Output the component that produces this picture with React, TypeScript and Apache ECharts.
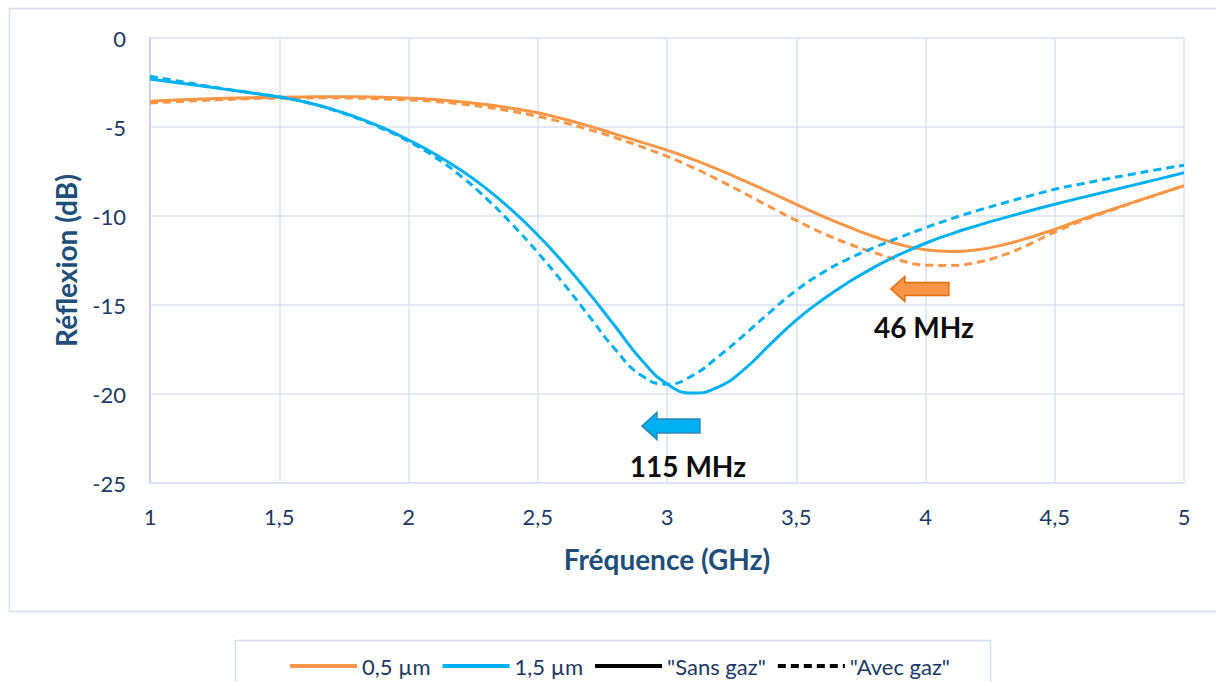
import React, { useEffect, useRef } from "react";
import * as echarts from "echarts";

// ---- Data: frequency (GHz) and reflexion (dB) ----
const freqGHz = [
  1.0, 1.1, 1.2, 1.3, 1.4, 1.5, 1.6, 1.7, 1.8, 1.9,
  2.0, 2.1, 2.2, 2.3, 2.4, 2.5, 2.6, 2.7, 2.8, 2.9,
  3.0, 3.1, 3.2, 3.3, 3.4, 3.5, 3.6, 3.7, 3.8, 3.9,
  4.0, 4.1, 4.2, 4.3, 4.4, 4.5, 4.6, 4.7, 4.8, 4.9, 5.0,
];

// 0,5 µm — "Sans gaz" (solid)
const orangeSans = [
  -3.55, -3.49, -3.43, -3.38, -3.35, -3.33, -3.31, -3.3, -3.3, -3.33,
  -3.38, -3.46, -3.58, -3.74, -3.95, -4.2, -4.55, -4.95, -5.4, -5.85,
  -6.3, -6.82, -7.4, -8.03, -8.68, -9.35, -10.0, -10.6, -11.15, -11.6,
  -11.9, -12.0, -11.9, -11.62, -11.22, -10.75, -10.22, -9.73, -9.25, -8.77, -8.3,
];

// 0,5 µm — "Avec gaz" (dashed)
const orangeAvec = [
  -3.65, -3.58, -3.51, -3.45, -3.4, -3.38, -3.36, -3.36, -3.38, -3.42,
  -3.48, -3.56, -3.7, -3.88, -4.12, -4.4, -4.75, -5.15, -5.6, -6.1,
  -6.65, -7.28, -7.98, -8.73, -9.5, -10.25, -10.95, -11.55, -12.05, -12.48,
  -12.75, -12.78, -12.6, -12.2, -11.6, -10.9, -10.3, -9.77, -9.27, -8.78, -8.3,
];

// 1,5 µm — "Sans gaz" (solid)
const blueSans = [
  -2.3, -2.5, -2.7, -2.9, -3.1, -3.32, -3.6, -3.98, -4.46, -5.04,
  -5.73, -6.5, -7.4, -8.45, -9.67, -11.07, -12.64, -14.36, -16.21, -18.06,
  -19.43, -19.95, -19.6, -18.6, -17.2, -15.85, -14.72, -13.74, -12.89, -12.16,
  -11.53, -11.0, -10.54, -10.12, -9.72, -9.34, -8.98, -8.63, -8.28, -7.93, -7.57,
];

// 1,5 µm — "Avec gaz" (dashed)
const blueAvec = [
  -2.15, -2.4, -2.65, -2.88, -3.1, -3.3, -3.6, -4.0, -4.5, -5.1,
  -5.8, -6.67, -7.73, -9.0, -10.45, -12.05, -13.8, -15.65, -17.5, -18.95,
  -19.45, -18.95, -17.88, -16.66, -15.38, -14.18, -13.2, -12.42, -11.78, -11.2,
  -10.66, -10.15, -9.7, -9.28, -8.88, -8.5, -8.2, -7.92, -7.65, -7.39, -7.15,
];

const legendNames = ["0,5 µm", "1,5 µm", '"Sans gaz"', '"Avec gaz"'];

// Annotations: arrow tip position and label centre, in data coordinates
const arrowBlueTip = [2.903, -21.8];
const arrowOrangeTip = [3.866, -14.1];
const labelBluePos = [3.081, -24.04];
const labelOrangePos = [3.994, -16.24];
const labelBlueText = "115 MHz";
const labelOrangeText = "46 MHz";

const ORANGE = "#f79646";
const BLUE = "#00b0f0";
const GRID = "#d9e2f2";
const TICK = "#203864";
const TITLE = "#1f4e79";
const FONT = "Lato, 'Noto Sans', sans-serif";

const pairs = (xs: number[], ys: number[]) => xs.map((x, i) => [x, ys[i]]);

export default function App() {
  const ref = useRef<HTMLDivElement>(null);
  useEffect(() => {
    if (!ref.current) return;
    const chart = echarts.init(ref.current, null, { renderer: "svg" });
    const lineBase = { type: "line", showSymbol: false, symbol: "none", smooth: 0.5, z: 3 };
    chart.setOption({
      animation: false,
      backgroundColor: "#ffffff",
      grid: { left: 150, right: 32, top: 38, bottom: 199, containLabel: false, outerBoundsMode: "none" },
      legend: {
        data: legendNames,
        left: 283,
        top: 650,
        itemWidth: 67,
        itemHeight: 16,
        itemGap: 10,
        itemStyle: { opacity: 0, borderWidth: 0 },
        lineStyle: { width: 4 },
        textStyle: { color: TICK, fontSize: 22, fontFamily: FONT },
      },
      xAxis: {
        type: "value",
        min: 1,
        max: 5,
        interval: 0.5,
        name: "Fréquence (GHz)",
        nameLocation: "middle",
        nameGap: 62,
        nameTextStyle: { color: TITLE, fontSize: 28, fontWeight: "bold", fontFamily: FONT },
        axisLine: { show: true, onZero: false, lineStyle: { color: GRID, width: 1.5 } },
        axisTick: { show: false },
        axisLabel: {
          color: TICK,
          fontSize: 22,
          fontFamily: FONT,
          margin: 22,
          formatter: (v: number) => String(v).replace(".", ","),
        },
        splitLine: { show: true, lineStyle: { color: GRID, width: 1.5 } },
      },
      yAxis: {
        type: "value",
        min: -25,
        max: 0,
        interval: 5,
        name: "Réflexion (dB)",
        nameLocation: "middle",
        nameGap: 70,
        nameTextStyle: { color: TITLE, fontSize: 28, fontWeight: "bold", fontFamily: FONT },
        axisLine: { show: true, lineStyle: { color: "#bccde9", width: 1.5 } },
        axisTick: { show: false },
        axisLabel: { color: TICK, fontSize: 22, fontFamily: FONT, margin: 24 },
        splitLine: { show: true, lineStyle: { color: GRID, width: 1.5 } },
      },
      series: [
        { ...lineBase, name: "0,5 µm", data: pairs(freqGHz, orangeSans), lineStyle: { color: ORANGE, width: 3 }, itemStyle: { color: ORANGE } },
        { ...lineBase, name: "0,5 µm avec gaz", data: pairs(freqGHz, orangeAvec), lineStyle: { color: ORANGE, width: 3, type: [8, 5] }, itemStyle: { color: ORANGE } },
        { ...lineBase, name: "1,5 µm", data: pairs(freqGHz, blueSans), lineStyle: { color: BLUE, width: 3 }, itemStyle: { color: BLUE } },
        { ...lineBase, name: "1,5 µm avec gaz", data: pairs(freqGHz, blueAvec), lineStyle: { color: BLUE, width: 3, type: [8, 5] }, itemStyle: { color: BLUE } },
        { ...lineBase, name: '"Sans gaz"', data: [], lineStyle: { color: "#000000", width: 3.5 }, itemStyle: { color: "#000000" } },
        { ...lineBase, name: '"Avec gaz"', data: [], lineStyle: { color: "#000000", width: 3.5, type: [8, 5] }, itemStyle: { color: "#000000" } },
      ],
    });

    const px = (c: number[]) => chart.convertToPixel({ gridIndex: 0 }, c) as number[];
    const arrow = (tip: number[], head: number, hh: number, sh: number, len: number) => {
      const [x, y] = px(tip);
      return [
        [x, y],
        [x + head, y - hh],
        [x + head, y - sh],
        [x + len, y - sh],
        [x + len, y + sh],
        [x + head, y + sh],
        [x + head, y + hh],
      ];
    };
    const lb = px(labelBluePos);
    const lo = px(labelOrangePos);
    chart.setOption({
      graphic: [
        { type: "rect", silent: true, z: 0, shape: { x: 9.5, y: 8.5, width: 1220, height: 603 }, style: { fill: "none", stroke: "#d5dfef", lineWidth: 1.5 } },
        { type: "rect", silent: true, z: 0, shape: { x: 235.5, y: 640.5, width: 755, height: 60 }, style: { fill: "none", stroke: "#d5dfef", lineWidth: 1.5 } },
        { type: "polygon", z: 10, shape: { points: arrow(arrowBlueTip, 15, 13.5, 7, 58) }, style: { fill: BLUE, stroke: "#2a86b8", lineWidth: 1.5 } },
        { type: "polygon", z: 10, shape: { points: arrow(arrowOrangeTip, 14, 12.5, 6.5, 58) }, style: { fill: ORANGE, stroke: "#e46c0a", lineWidth: 1.5 } },
        { type: "text", z: 10, x: lb[0], y: lb[1], style: { text: labelBlueText, align: "center", verticalAlign: "middle", fontSize: 28, fontWeight: "bold", fontFamily: FONT, fill: "#0d0d0d" } },
        { type: "text", z: 10, x: lo[0], y: lo[1], style: { text: labelOrangeText, align: "center", verticalAlign: "middle", fontSize: 28, fontWeight: "bold", fontFamily: FONT, fill: "#0d0d0d" } },
      ],
    });
    return () => chart.dispose();
  }, []);
  return <div ref={ref} style={{ position: "absolute", left: 0, top: 0, width: 1216, height: 682 }} />;
}
